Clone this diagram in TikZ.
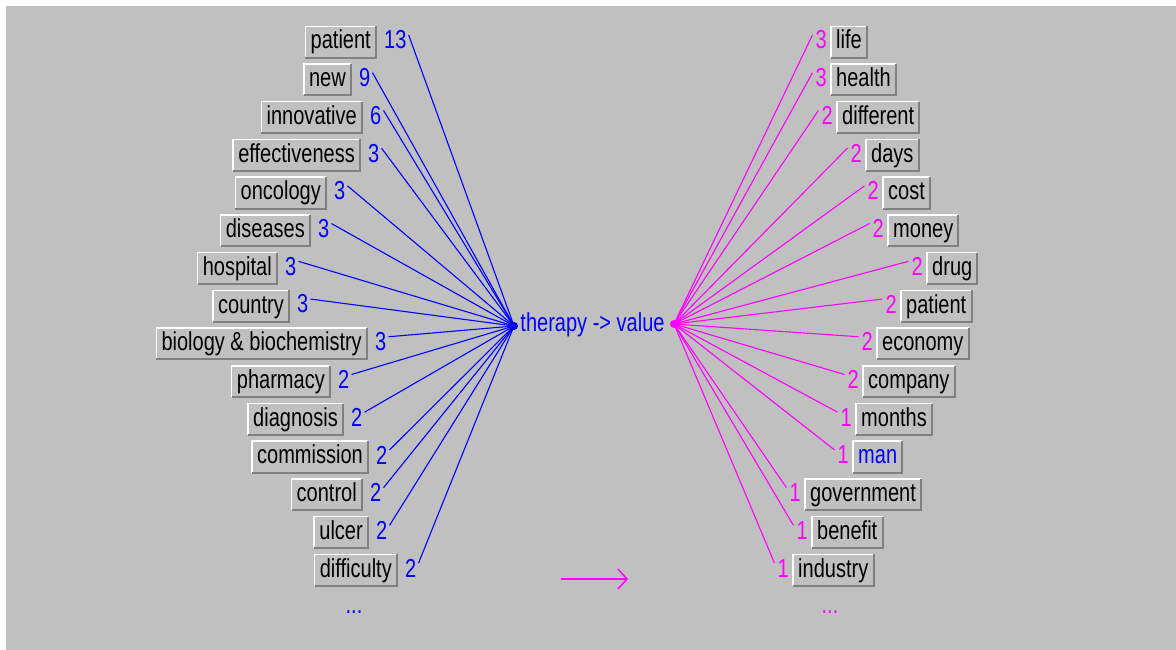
\documentclass[tikz,border=0pt]{standalone}
\usepackage{fontspec}
\setmainfont{Liberation Sans}[FakeStretch=0.77]
\usetikzlibrary{calc,arrows.meta}

\definecolor{panel}{RGB}{192,192,192}
\definecolor{btnlight}{RGB}{255,255,255}
\definecolor{btndark}{RGB}{128,128,128}
\definecolor{linkblue}{RGB}{0,0,255}
\definecolor{linkpink}{RGB}{255,0,255}

\newcommand\wordfont{\fontsize{26}{28}\selectfont}
% raised button look: light top/left edges, dark bottom/right edges
\newcommand\wordbevel[1]{%
  \draw[btnlight, line width=1.5pt] (#1.south west) -- (#1.north west) -- (#1.north east);
  \draw[btndark, line width=2pt] (#1.south west) -- (#1.south east) -- (#1.north east);
}

\tikzset{
  wordbox/.style={fill=panel, draw=none, inner xsep=5pt, inner ysep=0pt,
    minimum height=31pt, text height=19pt, text depth=5pt, font=\wordfont},
  count/.style={inner sep=0pt, font=\wordfont},
  leftlink/.style={linkblue, line width=1.1pt},
  rightlink/.style={linkpink, line width=1.1pt},
}

\begin{document}
\begin{tikzpicture}[x=1pt,y=-1pt]
  \useasboundingbox (0,0) rectangle (1176,650);
  \fill[white] (0,0) rectangle (1176,650);
  \fill[panel] (6,6) rectangle (1176,650);

  % central relation and its two hubs
  \node[count, text=linkblue] (rel) at (592.5,325) {therapy -> value};
  \coordinate (hl) at (514,326);
  \coordinate (hr) at (674,324);

  % left-hand terms
  \foreach \i/\w/\n/\br in {0/patient/13/376, 1/new/9/351, 2/innovative/6/362,
      3/effectiveness/3/360, 4/oncology/3/326, 5/diseases/3/310, 6/hospital/3/277,
      7/country/3/289, 8/biology \& biochemistry/3/367, 9/pharmacy/2/330,
      10/diagnosis/2/343, 11/commission/2/368, 12/control/2/362, 13/ulcer/2/368,
      14/difficulty/2/397} {
    \pgfmathsetmacro\yy{42+37.72*\i}
    \node[wordbox, anchor=east] (L\i) at (\br,\yy) {\w};
    \wordbevel{L\i}
    \node[count, text=linkblue, anchor=west] (LN\i) at (\br+8,\yy-2) {\n};
    \draw[leftlink] ($(LN\i.east)+(2,-5)$) -- (hl);
  }

  % right-hand terms
  \foreach \i/\w/\n/\bl/\tc in {0/life/3/831/black, 1/health/3/831/black,
      2/different/2/837/black, 3/days/2/866/black, 4/cost/2/883/black,
      5/money/2/888/black, 6/drug/2/927/black, 7/patient/2/901/black,
      8/economy/2/877/black, 9/company/2/863/black, 10/months/1/856/black,
      11/man/1/853/linkblue, 12/government/1/805/black, 13/benefit/1/812/black,
      14/industry/1/793/black} {
    \pgfmathsetmacro\yy{42+37.72*\i}
    \node[wordbox, anchor=west, text=\tc] (R\i) at (\bl,\yy) {\w};
    \wordbevel{R\i}
    \node[count, text=linkpink, anchor=east] (RN\i) at (\bl-4,\yy-2) {\n};
    \draw[rightlink] (hr) -- ($(RN\i.west)+(-3,-5)$);
  }

  \fill[linkblue] (hl) circle (4pt);
  \fill[linkpink] (hr) circle (4pt);

  \node[count, text=linkblue] (ldots) at (354,612) {...};
  \node[count, text=linkpink] (rdots) at (830,612) {...};

  \coordinate (as) at (561,579);
  \coordinate (ae) at (628,579);
  \draw[linkpink, line width=1.5pt, -{Straight Barb[length=9pt,width=20pt]}] (as) -- (ae);
\end{tikzpicture}
\end{document}
